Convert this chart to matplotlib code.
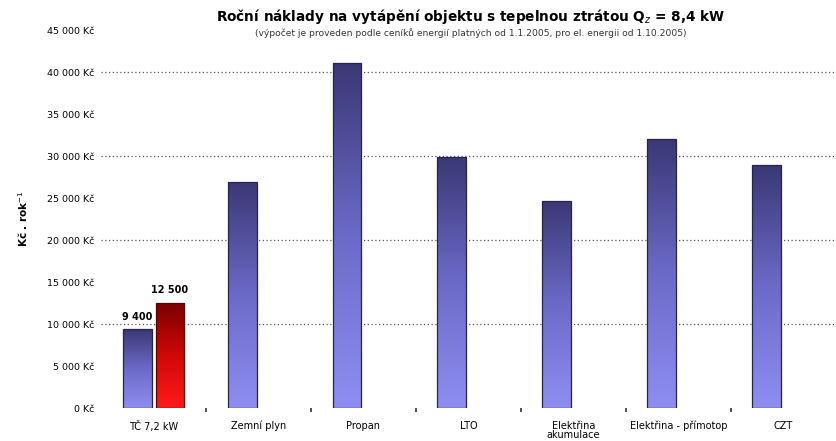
import numpy as np
import matplotlib
matplotlib.use("Agg")
import matplotlib.pyplot as plt
from matplotlib.colors import LinearSegmentedColormap

# Annual heating costs (Kč per year)
categories = ["TČ 7,2 kW", "Zemní plyn", "Propan", "LTO",
              "Elektřina\nakumulace", "Elektřina - přímotop", "CZT"]
costs_main = [9400, 26900, 41100, 29900, 24700, 32000, 28900]
costs_tc_alt = [12500]          # second variant, heat pump only
label_main = ["9 400"]
label_alt = ["12 500"]
yticks = list(range(0, 45001, 5000))
ytick_labels = [f"{v:,} Kč".replace(",", " ") for v in yticks]

title = "Roční náklady na vytápění objektu s tepelnou ztrátou Q$_z$ = 8,4 kW"
subtitle = ("(výpočet je proveden podle ceníků energií platných od 1.1.2005, "
            "pro el. energii od 1.10.2005)")

fig = plt.figure(figsize=(8.37, 4.41), dpi=100)
ax = fig.add_axes([0.1207, 0.0748, 0.878, 0.857])

x = np.arange(len(categories))
width = 0.276
off = 0.157

blue_cmap = LinearSegmentedColormap.from_list("b", ["#8e8ef2", "#6c6ac8", "#3a3874"])
red_cmap = LinearSegmentedColormap.from_list("r", ["#ff1a1a", "#d00808", "#7a0000"])


def gradient_bars(bars, cmap, edge):
    for b in bars:
        x0, y0 = b.get_x(), b.get_y()
        w, h = b.get_width(), b.get_height()
        grad = np.linspace(0, 1, 256).reshape(-1, 1)
        im = ax.imshow(grad, cmap=cmap, origin="lower", aspect="auto",
                       extent=(x0, x0 + w, y0, y0 + h), zorder=2,
                       interpolation="bicubic")
        im.set_clip_path(b)
        b.set_facecolor("none")
        b.set_edgecolor(edge)
        b.set_linewidth(0.9)
        b.set_zorder(3)


bars_main = ax.bar(x - off, costs_main, width=width)
bars_alt = ax.bar(x[:1] + off, costs_tc_alt, width=width)
gradient_bars(bars_main, blue_cmap, "#25234f")
gradient_bars(bars_alt, red_cmap, "#5a0000")

for b, t in zip(bars_main[:1], label_main):
    ax.text(b.get_x() + b.get_width() / 2, b.get_height() + 900, t,
            ha="center", va="bottom", fontsize=7, fontweight="bold")
for b, t in zip(bars_alt, label_alt):
    ax.text(b.get_x() + b.get_width() / 2, b.get_height() + 900, t,
            ha="center", va="bottom", fontsize=7, fontweight="bold")

ax.set_xlim(-0.5, len(categories) - 0.5)
ax.set_ylim(0, 45000)
ax.set_yticks(yticks)
ax.set_yticklabels(ytick_labels, fontsize=6.8)
ax.set_xticks(x)
ax.set_xticklabels(categories, fontsize=7, linespacing=0.95)
ax.tick_params(axis="both", length=0, pad=5)
ax.tick_params(axis="x", pad=9)
ax.set_xticks(x[1:] - 0.5, minor=True)
ax.tick_params(axis="x", which="minor", length=3, width=1.2, color="#333333",
               direction="out")

for v in range(10000, 45000, 10000):
    ax.axhline(v, color="#555555", lw=0.9, ls=(0, (1, 2)), zorder=1)

for s in ax.spines.values():
    s.set_visible(False)

ax.set_ylabel("Kč . rok$^{-1}$", fontsize=7.5, fontweight="bold", labelpad=12)

fig.text(0.562, 0.962, title, ha="center", va="center", fontsize=9.8,
         fontweight="bold")
fig.text(0.562, 0.925, subtitle, ha="center", va="center", fontsize=6.6,
         color="#333333")

fig.savefig("out.png", dpi=100, facecolor="white")
